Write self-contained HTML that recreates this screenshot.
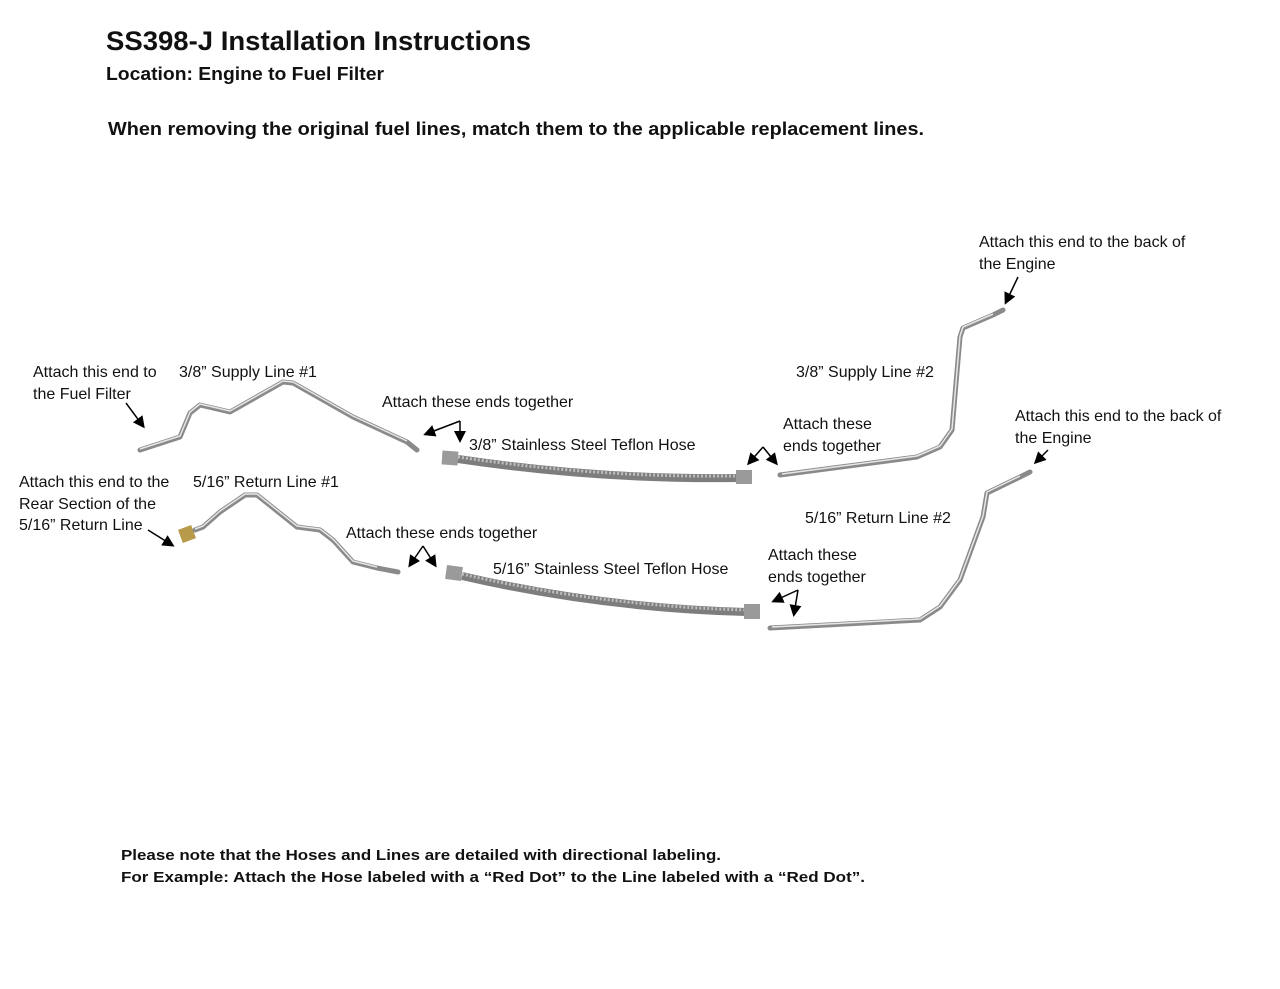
<!DOCTYPE html>
<html><head><meta charset="utf-8"><style>
html,body{margin:0;padding:0;background:#fff;}
svg{display:block}
text{font-family:"Liberation Sans",sans-serif;fill:#111}
.s{font-size:16px}
.b{font-weight:bold}
.tube{fill:none;stroke:#8a8a8a;stroke-width:5;stroke-linejoin:round;stroke-linecap:round}
.hl{fill:none;stroke:#e6e6e6;stroke-width:1.5;stroke-linejoin:round}
.hose{fill:none;stroke:#7d7d7d;stroke-width:8;stroke-linecap:butt}
.hoseh{fill:none;stroke:#bdbdbd;stroke-width:3;stroke-dasharray:2 2}
.ar{stroke:#000;stroke-width:1.5;fill:none}
</style></head><body>
<svg width="1280" height="989" viewBox="0 0 1280 989">
<defs><marker id="m" markerWidth="8" markerHeight="8" refX="6" refY="4" orient="auto"><path d="M0,0 L8,4 L0,8 z" fill="#000"/></marker></defs>
<text x="106" y="50" class="b" font-size="27" textLength="425" lengthAdjust="spacingAndGlyphs">SS398-J Installation Instructions</text>
<text x="106" y="80" class="b" font-size="18" textLength="278" lengthAdjust="spacingAndGlyphs">Location: Engine to Fuel Filter</text>
<text x="108" y="135" class="b" font-size="18" textLength="816" lengthAdjust="spacingAndGlyphs">When removing the original fuel lines, match them to the applicable replacement lines.</text>

<text x="33" y="377" class="s">Attach this end to</text>
<text x="33" y="399" class="s">the Fuel Filter</text>
<text x="179" y="377" class="s">3/8” Supply Line #1</text>
<text x="382" y="407" class="s">Attach these ends together</text>
<text x="469" y="450" class="s">3/8” Stainless Steel Teflon Hose</text>
<text x="796" y="377" class="s">3/8” Supply Line #2</text>
<text x="783" y="429" class="s">Attach these</text>
<text x="783" y="451" class="s">ends together</text>
<text x="979" y="247" class="s">Attach this end to the back of</text>
<text x="979" y="269" class="s">the Engine</text>
<text x="1015" y="421" class="s">Attach this end to the back of</text>
<text x="1015" y="443" class="s">the Engine</text>
<text x="19" y="487" class="s">Attach this end to the</text>
<text x="19" y="509" class="s">Rear Section of the</text>
<text x="19" y="530" class="s">5/16” Return Line</text>
<text x="193" y="487" class="s">5/16” Return Line #1</text>
<text x="346" y="538" class="s">Attach these ends together</text>
<text x="493" y="574" class="s">5/16” Stainless Steel Teflon Hose</text>
<text x="805" y="523" class="s">5/16” Return Line #2</text>
<text x="768" y="560" class="s">Attach these</text>
<text x="768" y="582" class="s">ends together</text>
<text x="121" y="860" class="b" font-size="15" textLength="600" lengthAdjust="spacingAndGlyphs">Please note that the Hoses and Lines are detailed with directional labeling.</text>
<text x="121" y="882" class="b" font-size="15" textLength="744" lengthAdjust="spacingAndGlyphs">For Example: Attach the Hose labeled with a “Red Dot” to the Line labeled with a “Red Dot”.</text>

<polyline class="tube" points="140,450 180,437 190,413 200,405 230,412 283,382 293,383 353,417 407,442 417,450"/>
<polyline class="hl" points="140,449 180,436 190,412 200,404 230,411 283,381 293,382 353,416 407,441"/>
<rect x="180" y="527" width="14" height="14" fill="#b79a4a" transform="rotate(-20 187 534)"/>
<polyline class="tube" points="195,530 203,527 220,512 245,495 257,495 297,527 320,530 333,540 353,562 377,568 398,572"/>
<polyline class="hl" points="195,529 203,526 220,511 245,494 257,494 297,526 320,529 333,539 353,561 377,567"/>
<polyline class="tube" points="780,475 917,457 940,447 952,430 960,337 963,328 993,315 1003,310"/>
<polyline class="hl" points="782,474 917,456 940,446 952,429 960,336 963,327 993,314"/>
<polyline class="tube" points="770,628 920,620 940,607 960,580 983,517 987,493 1020,477 1030,472"/>
<polyline class="hl" points="772,627 920,619 940,606 960,579 983,516 987,492 1020,476"/>
<rect x="442" y="451" width="16" height="14" fill="#9a9a9a" transform="rotate(4 450 458)"/>
<path class="hose" d="M458,459 Q600,480 738,478"/>
<path class="hoseh" d="M458,457 Q600,478 738,476"/>
<rect x="736" y="470" width="16" height="14" fill="#9a9a9a"/>
<rect x="446" y="566" width="16" height="14" fill="#9a9a9a" transform="rotate(8 454 573)"/>
<path class="hose" d="M462,576 Q600,608 746,612"/>
<path class="hoseh" d="M462,574 Q600,606 746,610"/>
<rect x="744" y="604" width="16" height="15" fill="#9a9a9a"/>

<line class="ar" x1="126" y1="403" x2="143" y2="426" marker-end="url(#m)"/>
<line class="ar" x1="460" y1="421" x2="426" y2="434" marker-end="url(#m)"/>
<line class="ar" x1="460" y1="421" x2="460" y2="440" marker-end="url(#m)"/>
<line class="ar" x1="763" y1="447" x2="749" y2="463" marker-end="url(#m)"/>
<line class="ar" x1="763" y1="447" x2="776" y2="463" marker-end="url(#m)"/>
<line class="ar" x1="1018" y1="277" x2="1006" y2="302" marker-end="url(#m)"/>
<line class="ar" x1="1048" y1="450" x2="1036" y2="462" marker-end="url(#m)"/>
<line class="ar" x1="148" y1="530" x2="172" y2="545" marker-end="url(#m)"/>
<line class="ar" x1="423" y1="546" x2="410" y2="565" marker-end="url(#m)"/>
<line class="ar" x1="423" y1="546" x2="435" y2="565" marker-end="url(#m)"/>
<line class="ar" x1="798" y1="590" x2="774" y2="601" marker-end="url(#m)"/>
<line class="ar" x1="798" y1="590" x2="794" y2="614" marker-end="url(#m)"/>
</svg>
</body></html>
